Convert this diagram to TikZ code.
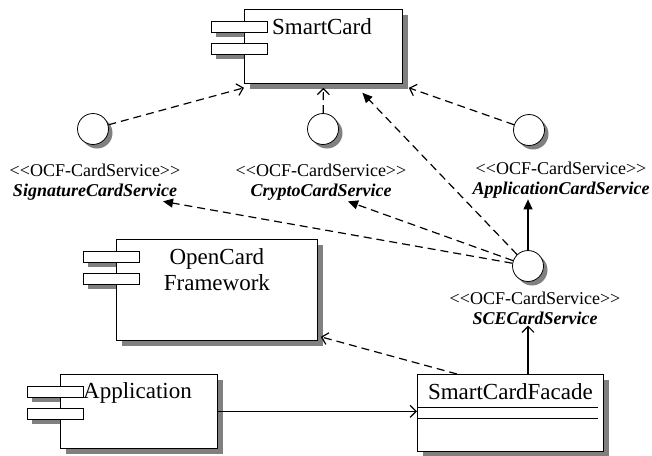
\documentclass[tikz,border=0pt]{standalone}
\usepackage{fontspec}
\setmainfont{Liberation Serif}
\usetikzlibrary{arrows.meta}
\definecolor{shadowgray}{RGB}{128,128,128}

% component box with its shadow and the two small tabs: name, x, y, width, height
\newcommand{\component}[5]{%
  \fill[shadowfill] (#2-28,#3+17) rectangle ++(56,11);
  \fill[shadowfill] (#2-28,#3+39) rectangle ++(56,11);
  \fill[shadowfill] (#2+6,#3+6) rectangle ++(#4,#5);
  \node[comp, minimum width=#4pt, minimum height=#5pt] (#1) at (#2,#3) {};
  \node[port] (#1-p1) at ([shift={(-33,12)}]#1.north west) {};
  \node[port] (#1-p2) at ([shift={(-33,34)}]#1.north west) {};
}
% interface circle with its shadow: name, x, y
\newcommand{\iface}[3]{%
  \fill[shadowfill] (#2+4,#3+4) circle (15.5);
  \node[lollipop] (#1) at (#2,#3) {};
}

\begin{document}
\begin{tikzpicture}[x=1pt, y=-1pt,
    shadowfill/.style={fill=shadowgray},
    comp/.style={draw, fill=white, anchor=north west, inner sep=0pt, line width=0.8pt},
    port/.style={draw, fill=white, anchor=north west, inner sep=0pt, line width=0.8pt,
      minimum width=56pt, minimum height=11pt},
    lollipop/.style={circle, draw, fill=white, minimum size=31pt, inner sep=0pt, line width=0.8pt},
    compname/.style={font=\fontsize{23}{26}\selectfont, inner sep=0pt},
    stereo/.style={font=\fontsize{18}{20}\selectfont, align=center, inner sep=1pt},
    dep/.style={dash pattern=on 8pt off 5pt, line width=1.2pt, -{Straight Barb[length=6pt,width=12pt]}},
    depfill/.style={dash pattern=on 8pt off 5pt, line width=1.2pt, -{Triangle[length=10pt,width=9pt]}},
    assoc/.style={line width=1.2pt, -{Straight Barb[length=6pt,width=12pt]}},
    gen/.style={line width=1.2pt, -{Triangle[length=10pt,width=9pt]}}]
    \useasboundingbox (0,0) rectangle (652,455);

    % components
    \component{sc}{244}{9}{158}{74}
    \node[compname, anchor=west] (sctext) at ([shift={(28,18)}]sc.north west) {SmartCard};

    \component{ocf}{116}{239}{201}{101}
    \node[compname, align=center] (ocftext) at ([yshift=-31pt]ocf.north) {OpenCard\\Framework};

    \component{app}{60}{374}{157}{74}
    \node[compname, anchor=west] (apptext) at ([shift={(23,19)}]app.north west) {Application};

    \fill[shadowfill] (423,380) rectangle ++(186,77);
    \node[comp, minimum width=186pt, minimum height=77pt] (facade) at (417,374) {};
    \node[compname] (facadetext) at ([yshift=-18pt]facade.north) {SmartCardFacade};
    \draw[line width=0.8pt] ([yshift=-33pt]facade.north west) -- ([shift={(-6pt,-33pt)}]facade.north east);
    \draw[line width=0.8pt] ([yshift=-44pt]facade.north west) -- ([shift={(-6pt,-44pt)}]facade.north east);

    % interfaces
    \iface{sig}{93}{129}
    \iface{crypto}{323}{129}
    \iface{appsvc}{529}{130}
    \iface{sce}{528}{266}

    \node[stereo] (siglabel) at (95,182) {<{}<OCF-CardService>{}>\\\textbf{\textit{SignatureCardService}}};
    \node[stereo] (cryptolabel) at (321,182) {<{}<OCF-CardService>{}>\\\textbf{\textit{CryptoCardService}}};
    \node[stereo] (applabel) at (561,180) {<{}<OCF-CardService>{}>\\\textbf{\textit{ApplicationCardService}}};
    \node[stereo] (scelabel) at (535,308) {<{}<OCF-CardService>{}>\\\textbf{\textit{SCECardService}}};

    % connectors
    \draw[dep] (sig) -- ([yshift=-4pt]sc.south west);
    \draw[dep] (crypto) -- ([yshift=-4pt]sc.south);
    \draw[dep] (appsvc) -- ([shift={(6pt,-4pt)}]sc.south east);
    \draw[depfill] (sce) -- ([shift={(39pt,-9pt)}]sc.south);
    \draw[depfill] (sce) -- ([xshift=68pt]siglabel.south);
    \draw[depfill] (sce) -- ([xshift=27pt]cryptolabel.south);
    \draw[gen] (sce) -- (sce |- applabel.south);
    \draw[assoc] (facade.north -| sce) -- (sce |- scelabel.south);
    \draw[dep] ([xshift=40pt]facade.north west) -- ([shift={(3pt,4pt)}]ocf.south east);
    \draw[assoc] (app.east) -- (app.east -| facade.west);
\end{tikzpicture}
\end{document}
